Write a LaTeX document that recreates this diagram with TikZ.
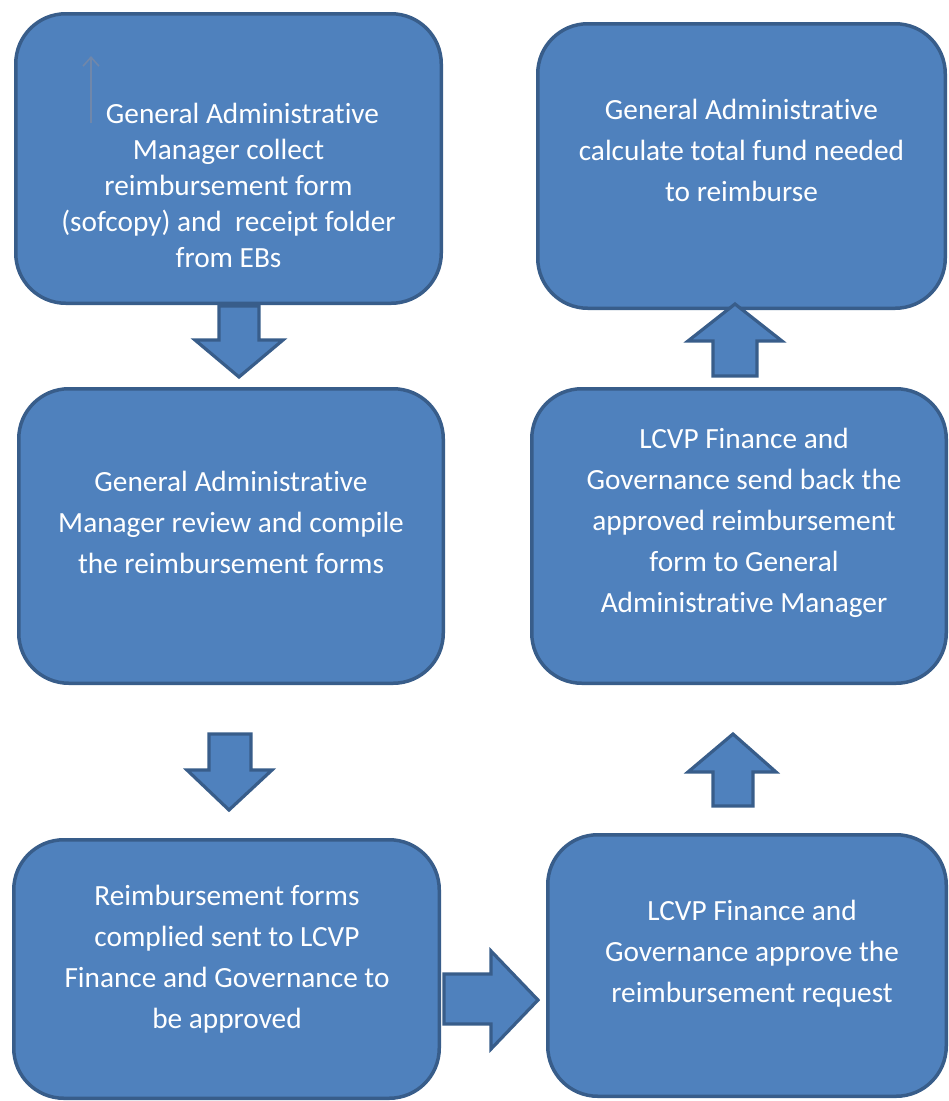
\documentclass[tikz,border=0pt]{standalone}
\usepackage{fontspec}
\setmainfont{Carlito}[Ligatures=NoCommon]
\usetikzlibrary{arrows.meta}
\definecolor{boxfill}{HTML}{4F81BD}
\definecolor{boxline}{HTML}{385D8A}
\definecolor{thinarrow}{HTML}{7087AA}
\tikzset{
  box/.style={draw=boxline, fill=boxfill, line width=3.5pt, rounded corners=50pt, rectangle, inner sep=0pt},
  label/.style={text=white, align=center, inner sep=0pt, font=\fontsize{29.3pt}{41pt}\selectfont},
  blockarrow/.style={draw=boxline, fill=boxfill, line width=3.2pt, line join=miter},
}
\begin{document}
\begin{tikzpicture}[x=1pt, y=-1pt]
\useasboundingbox (0,0) rectangle (949,1101);
% boxes
\node[box, minimum width=425.5pt, minimum height=289.5pt] (b1) at (228.5,158.5) {};
\node[box, minimum width=424.5pt, minimum height=294.5pt] (b2) at (231,536) {};
\node[box, minimum width=425.5pt, minimum height=258.5pt] (b3) at (226.5,969) {};
\node[box, minimum width=398.5pt, minimum height=261.5pt] (b4) at (747,965.5) {};
\node[box, minimum width=414.5pt, minimum height=294.5pt] (b5) at (739,536) {};
\node[box, minimum width=407.5pt, minimum height=284.5pt] (b6) at (741.5,166) {};
% labels
\node[label, font=\fontsize{29.3pt}{36pt}\selectfont] (t1) at (228.5,185.5) {\hspace*{28pt}General Administrative\\Manager collect\\reimbursement form\\(sofcopy) and\ \ receipt folder\\from EBs};
\node[label] (t2) at (231,522) {General Administrative\\Manager review and compile\\the reimbursement forms};
\node[label] (t3) at (227,959) {Reimbursement forms\\complied sent to LCVP\\Finance and Governance to\\be approved};
\node[label] (t4) at (752,954) {LCVP Finance and\\Governance approve the\\reimbursement request};
\node[label] (t5) at (744,523) {LCVP Finance and\\Governance send back the\\approved reimbursement\\form to General\\Administrative Manager};
\node[label] (t6) at (741.5,150) {General Administrative\\calculate total fund needed\\to reimburse};
% stray thin arrow in first box
\coordinate (sa) at (91,123);
\coordinate (sb) at (91,56);
\draw[thinarrow, line width=1.6pt, -{Straight Barb[length=9pt,width=16pt]}] (sa) -- (sb);
% block arrows
\draw[blockarrow] (219,306) -- (259,306) -- (259,340) -- (283,340) -- (239,377) -- (195,340) -- (219,340) -- cycle;
\draw[blockarrow] (209,734) -- (251,734) -- (251,770) -- (272,770) -- (229,810) -- (187,770) -- (209,770) -- cycle;
\draw[blockarrow] (444,974) -- (491,974) -- (491,951) -- (538,1000) -- (491,1049) -- (491,1024) -- (444,1024) -- cycle;
\draw[blockarrow] (713,806) -- (753,806) -- (753,772) -- (776,772) -- (733,734) -- (688,772) -- (713,772) -- cycle;
\draw[blockarrow] (713,376) -- (757,376) -- (757,341) -- (782,341) -- (735,304) -- (688,341) -- (713,341) -- cycle;
\end{tikzpicture}
\end{document}
